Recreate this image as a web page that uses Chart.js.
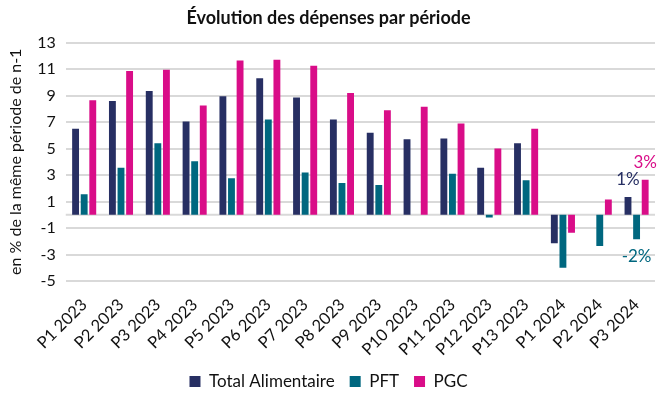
<!DOCTYPE html>
<html>
<head>
<meta charset="utf-8">
<script src="https://cdn.jsdelivr.net/npm/chart.js@4"></script>
<style>
  html, body { margin: 0; padding: 0; background: #fff; }
  #wrap { width: 659px; height: 400px; }
</style>
</head>
<body>
<div id="wrap"><canvas id="chart"></canvas></div>
<script>
  // periods
  var periods = ['P1 2023', 'P2 2023', 'P3 2023', 'P4 2023', 'P5 2023', 'P6 2023', 'P7 2023',
    'P8 2023', 'P9 2023', 'P10 2023', 'P11 2023', 'P12 2023', 'P13 2023',
    'P1 2024', 'P2 2024', 'P3 2024'];

  // % vs same period n-1
  var totalAlimentaire = [6.5, 8.6, 9.35, 7.05, 8.95, 10.3, 8.85, 7.2, 6.2, 5.7, 5.75, 3.55, 5.4, -2.15, null, 1.35];
  var pft = [1.55, 3.55, 5.4, 4.05, 2.75, 7.2, 3.2, 2.4, 2.25, null, 3.1, -0.2, 2.6, -4.0, -2.35, -1.85];
  var pgc = [8.65, 10.85, 10.95, 8.25, 11.65, 11.7, 11.25, 9.2, 7.9, 8.15, 6.9, 5.0, 6.5, -1.35, 1.15, 2.65];

  // labels shown on the last period only
  var lastLabels = ['1%', '-2%', '3%'];

  var colors = ['#272f63', '#00677f', '#d90d88'];

  var font = "Lato, 'Open Sans', sans-serif";

  // grey line at 0
  var zeroLine = {
    id: 'zeroLine',
    beforeDatasetsDraw: function(chart) {
      var ctx = chart.ctx;
      var y = chart.scales.y.getPixelForValue(0);
      ctx.save();
      ctx.strokeStyle = '#d9d9d9';
      ctx.lineWidth = 2;
      ctx.beginPath();
      ctx.moveTo(chart.chartArea.left, y);
      ctx.lineTo(chart.chartArea.right, y);
      ctx.stroke();
      ctx.restore();
    }
  };

  var lastValueLabels = {
    id: 'lastValueLabels',
    afterDatasetsDraw: function(chart) {
      var ctx = chart.ctx;
      var idx = periods.length - 1;
      ctx.save();
      ctx.font = '17px ' + font;
      ctx.textAlign = 'center';
      ctx.textBaseline = 'middle';
      chart.data.datasets.forEach(function(ds, i) {
        var bar = chart.getDatasetMeta(i).data[idx];
        var v = ds.data[idx];
        if (!bar || v == null) return;
        ctx.fillStyle = colors[i];
        var y = v >= 0 ? bar.y - 17 : bar.y + 17;
        ctx.fillText(lastLabels[i], bar.x, y);
      });
      ctx.restore();
    }
  };

  new Chart(document.getElementById('chart'), {
    type: 'bar',
    data: {
      labels: periods,
      datasets: [
        { label: 'Total Alimentaire', data: totalAlimentaire, backgroundColor: colors[0] },
        { label: 'PFT', data: pft, backgroundColor: colors[1] },
        { label: 'PGC', data: pgc, backgroundColor: colors[2] }
      ]
    },
    options: {
      responsive: true,
      maintainAspectRatio: false,
      animation: false,
      datasets: {
        bar: { barPercentage: 0.8, categoryPercentage: 0.7 }
      },
      layout: { padding: { left: 2, right: 4, top: 0, bottom: 0 } },
      plugins: {
        title: {
          display: true,
          text: 'Évolution des dépenses par période',
          color: '#111',
          font: { family: font, size: 18, weight: 'bold' },
          padding: { top: 7, bottom: 14 }
        },
        legend: {
          position: 'bottom',
          labels: {
            color: '#111',
            boxWidth: 11,
            boxHeight: 11,
            padding: 15,
            font: { family: font, size: 17 }
          }
        },
        tooltip: { enabled: false }
      },
      scales: {
        x: {
          grid: { display: false },
          border: { display: false },
          afterFit: function(scale) { scale.height = 77; },
          ticks: {
            color: '#111',
            maxRotation: 45,
            minRotation: 45,
            padding: 6,
            font: { family: font, size: 16.5 }
          }
        },
        y: {
          min: -5,
          max: 13,
          ticks: {
            stepSize: 2,
            color: '#111',
            padding: 10,
            font: { family: font, size: 16 }
          },
          grid: { color: '#d9d9d9', lineWidth: 2, drawTicks: false },
          border: { display: false },
          title: {
            display: true,
            text: 'en % de la même période de n-1',
            color: '#111',
            font: { family: font, size: 16 },
            padding: { bottom: 2 }
          }
        }
      }
    },
    plugins: [zeroLine, lastValueLabels]
  });
</script>
</body>
</html>
